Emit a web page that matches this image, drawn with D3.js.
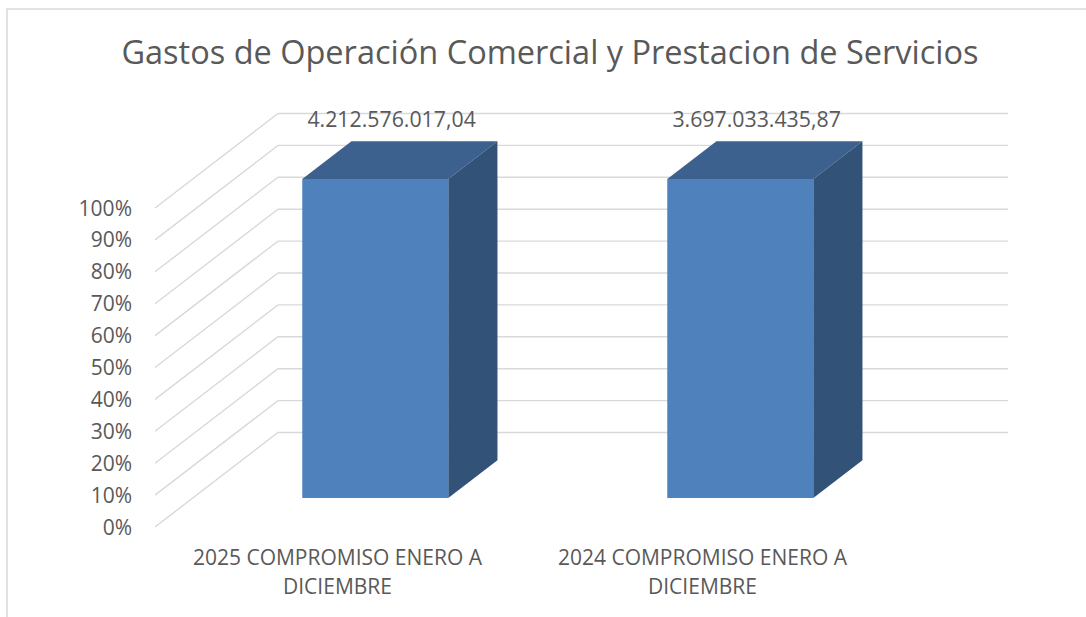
<!DOCTYPE html>
<html>
<head>
<meta charset="utf-8">
<script src="https://cdn.jsdelivr.net/npm/d3@7"></script>
<style>
  body { margin: 0; background: #fff; }
  text { font-family: "Open Sans", sans-serif; fill: #595959; }
</style>
</head>
<body>
<div id="graphContainer"></div>
<script>
const chartTitle = "Gastos de Operación Comercial y Prestacion de Servicios";
const categories = ["2025 COMPROMISO ENERO A DICIEMBRE", "2024 COMPROMISO ENERO A DICIEMBRE"];
const categoryLines = [["2025 COMPROMISO ENERO A", "DICIEMBRE"], ["2024 COMPROMISO ENERO A", "DICIEMBRE"]];
const values = [4212576017.04, 3697033435.87];
const yTickValues = [0, 0.1, 0.2, 0.3, 0.4, 0.5, 0.6, 0.7, 0.8, 0.9, 1];

const W = 1086, H = 617;
// front plane of the 3D box, plus the depth offset of the back wall
const plot = { left: 155, right: 885, bottom: 527, top: 208 };
const depth = { dx: 123, dy: -94.5 };
const barDepth = [0.307, 0.707];

const es = d3.formatLocale({ decimal: ",", thousands: ".", grouping: [3], currency: ["", ""] });
const fmtValue = es.format(",.2f");
const fmtPct = d3.format(".0%");

const rows = categories.map((c, i) => ({ cat: c, v: values[i] }));
// 100% stacked: each category is normalised to its own total
const stacked = d3.stack().keys(["v"]).offset(d3.stackOffsetExpand)(rows)[0];

const x = d3.scaleBand().domain(categories).range([plot.left, plot.right])
    .paddingInner(0.6).paddingOuter(0.3);
const y = d3.scaleLinear().domain([0, 1]).range([plot.bottom, plot.top]);
const z = d3.scaleLinear().domain([0, 1]).range([0, 1]);

function project(px, py, pz) {
    return [px + z(pz) * depth.dx, py + z(pz) * depth.dy];
}

const svg = d3.select("#graphContainer").append("svg")
    .attr("width", W)
    .attr("height", H);

svg.append("rect")
    .attr("x", 7).attr("y", 9)
    .attr("width", W + 20).attr("height", H + 20)
    .attr("fill", "#fff")
    .attr("stroke", "#D9D9D9")
    .attr("stroke-width", 1.5);

svg.append("text")
    .attr("x", 550)
    .attr("y", 64)
    .attr("text-anchor", "middle")
    .style("font-size", "32.5px")
    .text(chartTitle);

// gridlines: side wall diagonal + back wall horizontal
const line = d3.line();
svg.append("g").selectAll("path")
    .data(yTickValues)
    .enter()
    .append("path")
    .attr("d", t => line([
        project(plot.left, y(t), 0),
        project(plot.left, y(t), 1),
        project(plot.right, y(t), 1)
    ]))
    .attr("fill", "none")
    .attr("stroke", "#D9D9D9")
    .attr("stroke-width", 1.4);

svg.append("g").selectAll("text")
    .data(yTickValues)
    .enter()
    .append("text")
    .attr("x", 132)
    .attr("y", t => y(t))
    .attr("dy", "0.36em")
    .attr("text-anchor", "end")
    .style("font-size", "21px")
    .text(fmtPct);

// bars as boxes: top, side, then front face
const bars = svg.append("g").selectAll("g")
    .data(stacked)
    .enter()
    .append("g");

const pts = arr => arr.map(p => p.join(",")).join(" ");

bars.append("polygon")
    .attr("points", d => {
        const x0 = x(d.data.cat), x1 = x0 + x.bandwidth(), yt = y(d[1]);
        return pts([project(x0, yt, barDepth[0]), project(x1, yt, barDepth[0]),
                    project(x1, yt, barDepth[1]), project(x0, yt, barDepth[1])]);
    })
    .attr("fill", "#3C618E");

bars.append("polygon")
    .attr("points", d => {
        const x1 = x(d.data.cat) + x.bandwidth(), yt = y(d[1]), yb = y(d[0]);
        return pts([project(x1, yt, barDepth[0]), project(x1, yt, barDepth[1]),
                    project(x1, yb, barDepth[1]), project(x1, yb, barDepth[0])]);
    })
    .attr("fill", "#325278");

bars.append("rect")
    .attr("x", d => project(x(d.data.cat), 0, barDepth[0])[0])
    .attr("y", d => project(0, y(d[1]), barDepth[0])[1])
    .attr("width", x.bandwidth())
    .attr("height", d => y(d[0]) - y(d[1]))
    .attr("fill", "#4F81BD");

// value labels above each box
bars.append("text")
    .attr("x", d => project(x(d.data.cat) + x.bandwidth() / 2, 0, 0.44)[0])
    .attr("y", d => project(0, y(d[1]), 0.44)[1] - 39)
    .attr("text-anchor", "middle")
    .style("font-size", "21.3px")
    .text(d => fmtValue(d.data.v));

// category labels (two lines)
const catLabels = svg.append("g").selectAll("text")
    .data(categories)
    .enter()
    .append("text")
    .attr("x", d => x(d) + x.bandwidth() / 2)
    .attr("y", 565)
    .attr("text-anchor", "middle")
    .style("font-size", "21px");

catLabels.selectAll("tspan")
    .data((d, i) => categoryLines[i])
    .enter()
    .append("tspan")
    .attr("x", function() { return this.parentNode.getAttribute("x"); })
    .attr("dy", (d, i) => i === 0 ? 0 : 29)
    .text(d => d);
</script>
</body>
</html>
